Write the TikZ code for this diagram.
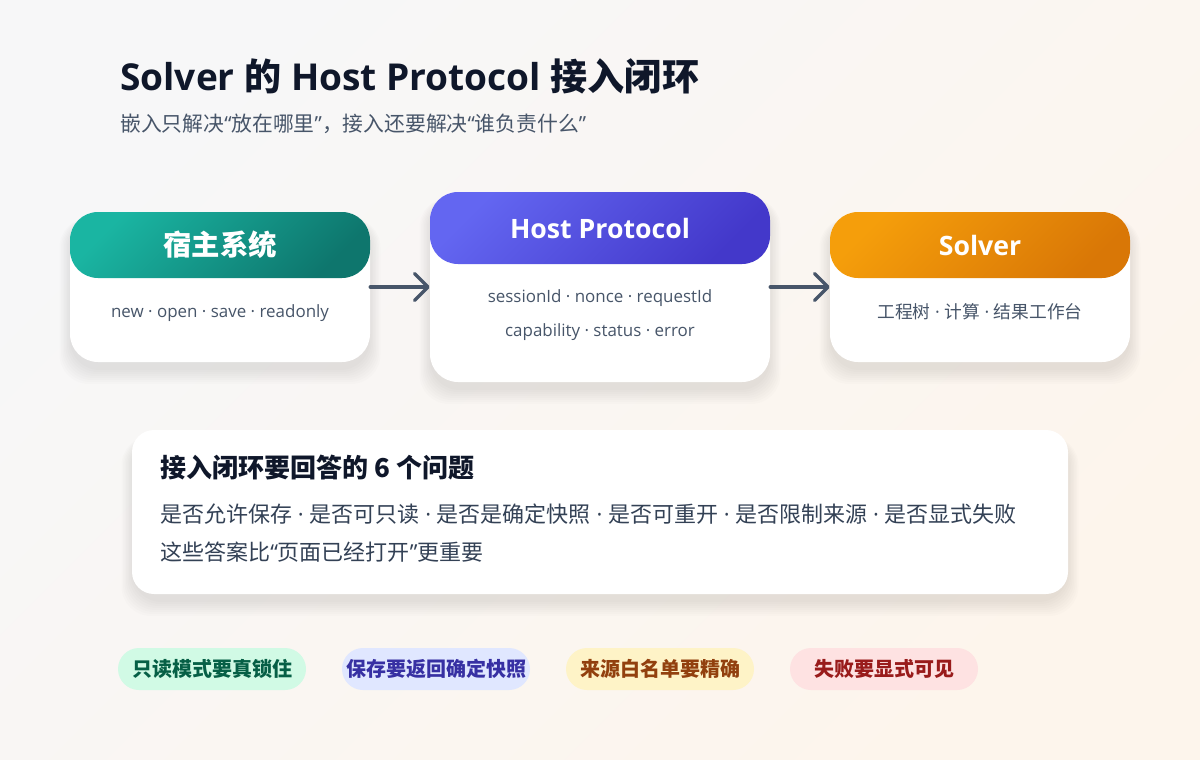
\documentclass[tikz,border=0pt]{standalone}
\usepackage{fontspec}
\setmainfont{Open Sans}
\newfontfamily\cjk{Noto Sans CJK SC}
\usetikzlibrary{arrows.meta}
\definecolor{bgA}{HTML}{F7F7F8}
\definecolor{bgB}{HTML}{FDF5EC}
\definecolor{tealA}{HTML}{1AB5A2}
\definecolor{tealB}{HTML}{0E766D}
\definecolor{indA}{HTML}{6366F1}
\definecolor{indB}{HTML}{4338CA}
\definecolor{orA}{HTML}{F59E0B}
\definecolor{orB}{HTML}{D97706}
\definecolor{ink}{HTML}{0F172A}
\definecolor{subc}{HTML}{475569}
\definecolor{bodyc}{HTML}{334155}
\definecolor{arrowc}{HTML}{475569}
\definecolor{gbg}{HTML}{D1FAE5}\definecolor{gfg}{HTML}{065F46}
\definecolor{ibg}{HTML}{E0E7FF}\definecolor{ifg}{HTML}{3730A3}
\definecolor{abg}{HTML}{FEF3C7}\definecolor{afg}{HTML}{92400E}
\definecolor{rbg}{HTML}{FEE2E2}\definecolor{rfg}{HTML}{991B1B}
\newcommand\dsep{{\rmfamily\mdseries\ ·\ }}
\newcommand\oq{{\rmfamily “}}
\newcommand\cq{{\rmfamily ”}}
\newcommand\softshadow[4]{% cx cy w h (px)
  \foreach \k in {0,...,7}{
    \fill[black, opacity=0.01, rounded corners=22pt]
      (#1-#3/2-\k*1.5, #2-#4/2+6) rectangle (#1+#3/2+\k*1.5, #2+#4/2+8+\k*2);
  }}
\tikzset{
  card/.style={fill=white, rounded corners=21pt, inner sep=0pt},
  header/.style={rounded corners=21pt, inner sep=0pt, text=white,
     font=\fontsize{20pt}{24pt}\selectfont\bfseries},
  bodytxt/.style={text=subc, font=\fontsize{12.7pt}{14pt}\selectfont, inner sep=0pt, anchor=base},
  conn/.style={draw=arrowc, line width=2.6pt, line cap=round,
     -{Straight Barb[length=10pt,width=20pt,line cap=round,line join=round]}},
  pill/.style={rounded corners=15.75pt, minimum width=141pt, minimum height=31.5pt, inner sep=0pt,
     font=\fontsize{15pt}{17pt}\selectfont\cjk\bfseries},
}
\begin{document}
\begin{tikzpicture}[x=0.75pt,y=-0.75pt]
\useasboundingbox (0,0) rectangle (1200,760);
\shade[top color=bgA, bottom color=bgB, shading angle=45] (0,0) rectangle (1200,760);

% title
\node[anchor=base west, inner sep=0pt, text=ink, font=\fontsize{27.8pt}{32pt}\selectfont\bfseries] (title) at (120,90)
  {Solver {\cjk 的} Host Protocol {\cjk 接入闭环}};
\node[anchor=base west, inner sep=0pt, text=subc, font=\fontsize{15.6pt}{18pt}\selectfont\cjk] (subtitle) at (120,131)
  {嵌入只解决\oq 放在哪里\cq，接入还要解决\oq 谁负责什么\cq};

% shadows
\softshadow{220}{287}{300}{150}
\softshadow{600}{287}{340}{190}
\softshadow{980}{287}{300}{150}
\softshadow{600}{512}{936}{164}

% cards
\node[card, minimum width=225pt, minimum height=112.5pt] (host) at (220,287) {};
\node[header, minimum width=225pt, minimum height=49.5pt, top color=tealA, bottom color=tealB, shading angle=45, font=\fontsize{21.3pt}{24pt}\selectfont\cjk\bfseries] (hostH) at (220,245) {宿主系统};
\node[bodytxt] (hostT) at (220,317) {new · open · save · readonly};

\node[card, minimum width=255pt, minimum height=142.5pt] (proto) at (600,287) {};
\node[header, minimum width=255pt, minimum height=54pt, top color=indA, bottom color=indB, shading angle=45] (protoH) at (600,228) {Host Protocol};
\node[bodytxt] (protoT1) at (600,302) {sessionId · nonce · requestId};
\node[bodytxt] (protoT2) at (600,336) {capability · status · error};

\node[card, minimum width=225pt, minimum height=112.5pt] (solver) at (980,287) {};
\node[header, minimum width=225pt, minimum height=49.5pt, top color=orA, bottom color=orB, shading angle=45] (solverH) at (980,245) {Solver};
\node[bodytxt, font=\fontsize{13.3pt}{15pt}\selectfont\cjk] (solverT) at (980,318) {工程树\dsep 计算\dsep 结果工作台};

\draw[conn] (host) -- (proto);
\draw[conn] (proto) -- (solver);

% question card
\node[card, rounded corners=16.5pt, minimum width=702pt, minimum height=123pt] (qcard) at (600,512) {};
\node[anchor=base west, inner sep=0pt, text=ink, font=\fontsize{19.5pt}{22pt}\selectfont\cjk\bfseries] (qtitle) at (160,477)
  {接入闭环要回答的 6 个问题};
\node[anchor=base west, inner sep=0pt, text=bodyc, font=\fontsize{16.5pt}{18pt}\selectfont\cjk] (q1) at (160,522)
  {是否允许保存\dsep 是否可只读\dsep 是否是确定快照\dsep 是否可重开\dsep 是否限制来源\dsep 是否显式失败};
\node[anchor=base west, inner sep=0pt, text=bodyc, font=\fontsize{16.5pt}{18pt}\selectfont\cjk] (q2) at (160,560)
  {这些答案比\oq 页面已经打开\cq 更重要};

% pills
\node[pill, fill=gbg, text=gfg] (p1) at (212,669) {只读模式要真锁住};
\node[pill, fill=ibg, text=ifg] (p2) at (436,669) {保存要返回确定快照};
\node[pill, fill=abg, text=afg] (p3) at (660,669) {来源白名单要精确};
\node[pill, fill=rbg, text=rfg] (p4) at (884,669) {失败要显式可见};
\end{tikzpicture}
\end{document}
